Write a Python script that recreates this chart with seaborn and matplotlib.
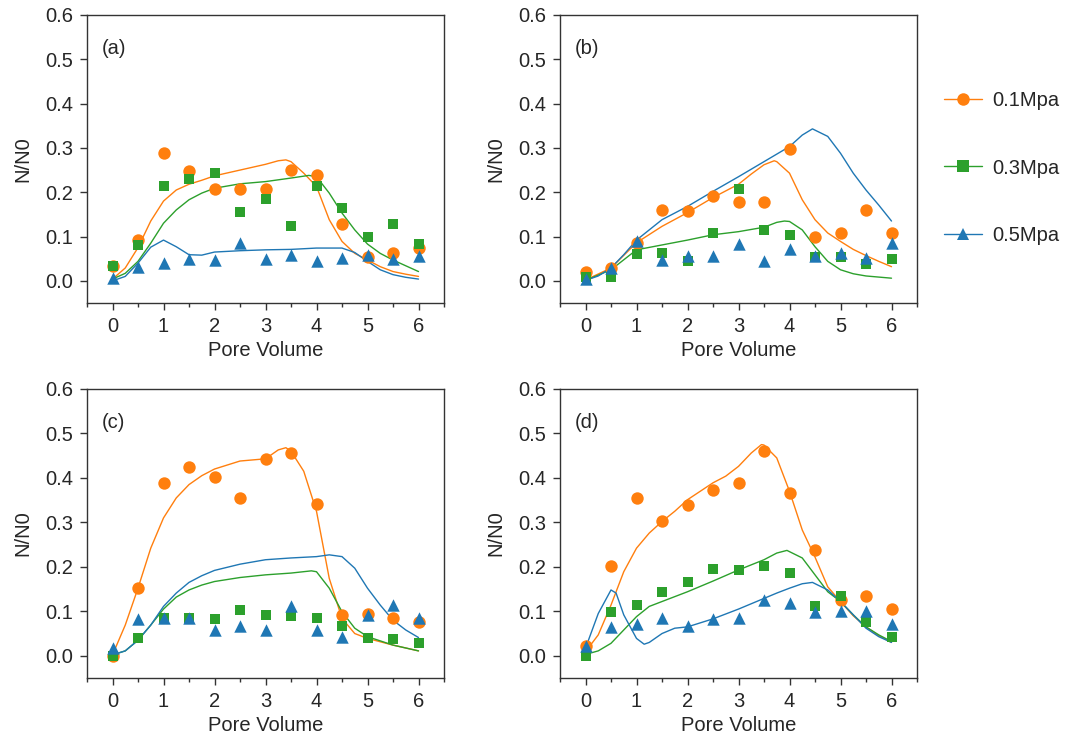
import matplotlib
matplotlib.use("Agg")
import matplotlib.pyplot as plt
import seaborn as sns
import pandas as pd
from matplotlib.lines import Line2D
from matplotlib.ticker import MultipleLocator

# ---------------- data ----------------
SERIES = ["0.1Mpa", "0.3Mpa", "0.5Mpa"]
PANELS = ["(a)", "(b)", "(c)", "(d)"]
PV = [0, 0.5, 1, 1.5, 2, 2.5, 3, 3.5, 4, 4.5, 5, 5.5, 6]
X_TICKS = [0, 1, 2, 3, 4, 5, 6]
Y_TICKS = [0.0, 0.1, 0.2, 0.3, 0.4, 0.5, 0.6]

# measured points
A_P01 = [0.034, 0.092, 0.289, 0.248, 0.208, 0.208, 0.208, 0.250, 0.239, 0.129, 0.053, 0.062, 0.074]
A_P03 = [0.034, 0.080, 0.215, 0.230, 0.243, 0.155, 0.184, 0.124, 0.214, 0.165, 0.100, 0.129, 0.083]
A_P05 = [0.007, 0.031, 0.040, 0.050, 0.046, 0.086, 0.050, 0.058, 0.044, 0.051, 0.059, 0.050, 0.055]

B_P01 = [0.019, 0.029, 0.086, 0.160, 0.158, 0.192, 0.179, 0.179, 0.297, 0.098, 0.107, 0.159, 0.107]
B_P03 = [0.008, 0.008, 0.061, 0.062, 0.044, 0.109, 0.208, 0.115, 0.104, 0.053, 0.053, 0.038, 0.049]
B_P05 = [0.004, 0.029, 0.089, 0.047, 0.055, 0.056, 0.083, 0.044, 0.071, 0.055, 0.062, 0.051, 0.086]

C_P01 = [0.000, 0.153, 0.389, 0.425, 0.403, 0.354, 0.442, 0.455, 0.341, 0.092, 0.094, 0.086, 0.077]
C_P03 = [0.000, 0.041, 0.086, 0.084, 0.082, 0.102, 0.092, 0.089, 0.086, 0.067, 0.041, 0.038, 0.028]
C_P05 = [0.017, 0.082, 0.086, 0.086, 0.059, 0.067, 0.059, 0.111, 0.058, 0.043, 0.092, 0.114, 0.086]

D_P01 = [0.023, 0.203, 0.355, 0.302, 0.338, 0.372, 0.388, 0.460, 0.365, 0.237, 0.126, 0.135, 0.105]
D_P03 = [0.000, 0.099, 0.114, 0.143, 0.165, 0.196, 0.192, 0.203, 0.186, 0.112, 0.135, 0.075, 0.043]
D_P05 = [0.023, 0.065, 0.071, 0.084, 0.067, 0.082, 0.084, 0.126, 0.119, 0.098, 0.101, 0.101, 0.071]

# fitted curves
A_C01_X = [0, 0.25, 0.5, 0.75, 1.0, 1.25, 1.5, 1.75, 2.0, 2.5, 3.0, 3.25, 3.4, 3.5, 3.75, 4.0, 4.25, 4.5, 4.75, 5.0, 5.25, 5.5, 5.75, 6.0]
A_C01_Y = [0.004, 0.029, 0.075, 0.135, 0.180, 0.205, 0.218, 0.227, 0.237, 0.250, 0.263, 0.271, 0.273, 0.269, 0.243, 0.213, 0.138, 0.089, 0.062, 0.047, 0.032, 0.021, 0.015, 0.010]
A_C03_X = [0, 0.25, 0.5, 0.75, 1.0, 1.25, 1.5, 1.75, 2.0, 2.5, 3.0, 3.5, 3.85, 4.0, 4.25, 4.5, 4.75, 5.0, 5.25, 5.5, 5.75, 6.0]
A_C03_Y = [0.004, 0.017, 0.044, 0.085, 0.130, 0.160, 0.183, 0.198, 0.209, 0.219, 0.224, 0.232, 0.238, 0.235, 0.198, 0.153, 0.115, 0.083, 0.062, 0.047, 0.034, 0.021]
A_C05_X = [0, 0.25, 0.5, 0.75, 1.0, 1.25, 1.5, 1.75, 2.0, 2.5, 3.0, 3.5, 4.0, 4.5, 4.75, 5.0, 5.25, 5.5, 5.75, 6.0]
A_C05_Y = [0.000, 0.010, 0.040, 0.076, 0.092, 0.077, 0.059, 0.058, 0.065, 0.068, 0.070, 0.071, 0.074, 0.074, 0.064, 0.044, 0.025, 0.014, 0.008, 0.004]

B_C01_X = [0, 0.5, 1.0, 1.5, 2.0, 2.5, 3.0, 3.25, 3.5, 3.7, 3.75, 4.0, 4.25, 4.5, 4.75, 5.0, 5.25, 5.5, 5.75, 6.0]
B_C01_Y = [0.002, 0.029, 0.086, 0.123, 0.154, 0.188, 0.218, 0.241, 0.262, 0.271, 0.269, 0.243, 0.183, 0.138, 0.108, 0.089, 0.071, 0.057, 0.044, 0.032]
B_C03_X = [0, 0.5, 1.0, 1.5, 2.0, 2.5, 3.0, 3.5, 3.75, 3.9, 4.0, 4.25, 4.5, 4.75, 5.0, 5.25, 5.5, 6.0]
B_C03_Y = [0.001, 0.025, 0.070, 0.081, 0.092, 0.104, 0.111, 0.121, 0.132, 0.135, 0.134, 0.115, 0.077, 0.044, 0.025, 0.016, 0.011, 0.006]
B_C05_X = [0, 0.25, 0.5, 0.75, 1.0, 1.5, 2.0, 2.5, 3.0, 3.5, 4.0, 4.25, 4.45, 4.75, 5.0, 5.25, 5.5, 5.75, 6.0]
B_C05_Y = [0.001, 0.011, 0.029, 0.059, 0.092, 0.138, 0.168, 0.202, 0.235, 0.269, 0.303, 0.329, 0.343, 0.326, 0.288, 0.243, 0.205, 0.171, 0.135]

C_C01_X = [0, 0.25, 0.5, 0.75, 1.0, 1.25, 1.5, 1.75, 2.0, 2.5, 3.0, 3.25, 3.4, 3.5, 3.75, 4.0, 4.25, 4.5, 4.75, 5.0, 5.5, 6.0]
C_C01_Y = [0.002, 0.069, 0.152, 0.242, 0.310, 0.355, 0.385, 0.405, 0.420, 0.438, 0.443, 0.463, 0.468, 0.460, 0.415, 0.325, 0.174, 0.084, 0.050, 0.039, 0.024, 0.011]
C_C03_X = [0, 0.25, 0.5, 0.75, 1.0, 1.25, 1.5, 1.75, 2.0, 2.5, 3.0, 3.5, 3.9, 4.0, 4.25, 4.5, 4.75, 5.0, 5.5, 6.0]
C_C03_Y = [0.002, 0.011, 0.035, 0.069, 0.105, 0.132, 0.148, 0.159, 0.167, 0.176, 0.182, 0.186, 0.191, 0.189, 0.152, 0.099, 0.062, 0.043, 0.024, 0.011]
C_C05_X = [0, 0.25, 0.5, 0.75, 1.0, 1.25, 1.5, 1.75, 2.0, 2.5, 3.0, 3.5, 4.0, 4.25, 4.5, 4.75, 5.0, 5.25, 5.5, 5.75, 6.0]
C_C05_Y = [0.002, 0.011, 0.035, 0.069, 0.111, 0.141, 0.165, 0.180, 0.192, 0.206, 0.216, 0.220, 0.223, 0.227, 0.223, 0.197, 0.152, 0.114, 0.080, 0.058, 0.041]

D_C01_X = [0, 0.25, 0.5, 0.75, 1.0, 1.25, 1.5, 1.75, 2.0, 2.25, 2.5, 2.75, 3.0, 3.25, 3.45, 3.5, 3.75, 4.0, 4.25, 4.5, 4.75, 5.0, 5.25, 5.5, 5.75, 6.0]
D_C01_Y = [0.009, 0.047, 0.114, 0.189, 0.242, 0.276, 0.302, 0.325, 0.351, 0.370, 0.389, 0.404, 0.426, 0.456, 0.475, 0.474, 0.445, 0.370, 0.283, 0.222, 0.155, 0.122, 0.090, 0.065, 0.045, 0.030]
D_C03_X = [0, 0.25, 0.5, 0.75, 1.0, 1.25, 1.5, 2.0, 2.5, 3.0, 3.5, 3.75, 3.95, 4.25, 4.5, 4.75, 5.0, 5.25, 5.5, 5.75, 6.0]
D_C03_Y = [0.003, 0.011, 0.028, 0.058, 0.088, 0.111, 0.122, 0.144, 0.168, 0.193, 0.216, 0.231, 0.237, 0.220, 0.182, 0.144, 0.122, 0.092, 0.065, 0.047, 0.032]
D_C05_X = [0, 0.25, 0.5, 0.6, 0.75, 1.0, 1.15, 1.25, 1.5, 1.75, 2.0, 2.5, 3.0, 3.5, 3.75, 4.0, 4.25, 4.45, 4.75, 5.0, 5.25, 5.5, 5.75, 6.0]
D_C05_Y = [0.017, 0.095, 0.148, 0.141, 0.092, 0.039, 0.026, 0.030, 0.050, 0.062, 0.065, 0.083, 0.105, 0.129, 0.141, 0.152, 0.162, 0.165, 0.148, 0.122, 0.092, 0.062, 0.043, 0.030]

# ---------------- style ----------------
sns.set_style("ticks")
plt.rcParams["font.family"] = ["Liberation Sans", "DejaVu Sans"]

COLORS = {"0.1Mpa": "#ff7f0e", "0.3Mpa": "#2ca02c", "0.5Mpa": "#1f77b4"}
MARKERS = {"0.1Mpa": "o", "0.3Mpa": "s", "0.5Mpa": "^"}
SIZES = {"0.1Mpa": 80, "0.3Mpa": 62, "0.5Mpa": 80}
SPINE = "#333333"
FS = 14.5

points = {
    "(a)": [A_P01, A_P03, A_P05],
    "(b)": [B_P01, B_P03, B_P05],
    "(c)": [C_P01, C_P03, C_P05],
    "(d)": [D_P01, D_P03, D_P05],
}
curves = {
    "(a)": [(A_C01_X, A_C01_Y), (A_C03_X, A_C03_Y), (A_C05_X, A_C05_Y)],
    "(b)": [(B_C01_X, B_C01_Y), (B_C03_X, B_C03_Y), (B_C05_X, B_C05_Y)],
    "(c)": [(C_C01_X, C_C01_Y), (C_C03_X, C_C03_Y), (C_C05_X, C_C05_Y)],
    "(d)": [(D_C01_X, D_C01_Y), (D_C03_X, D_C03_Y), (D_C05_X, D_C05_Y)],
}

W, H = 1077, 740
boxes = {"(a)": (87, 15, 444, 303), "(b)": (560, 15, 917, 303),
         "(c)": (87, 389, 444, 678), "(d)": (560, 389, 917, 678)}

fig = plt.figure(figsize=(W / 100, H / 100), dpi=100)

for panel in PANELS:
    l, t, r, b = boxes[panel]
    ax = fig.add_axes([l / W, 1 - b / H, (r - l) / W, (b - t) / H])
    # curves
    for s, (cx, cy) in zip(SERIES, curves[panel]):
        dfc = pd.DataFrame({"x": cx, "y": cy})
        sns.lineplot(data=dfc, x="x", y="y", ax=ax, color=COLORS[s], lw=1.0,
                     estimator=None, sort=False, legend=False, zorder=2)
    # points
    for s, py in zip(SERIES, points[panel]):
        dfp = pd.DataFrame({"x": PV, "y": py})
        sns.scatterplot(data=dfp, x="x", y="y", ax=ax, color=COLORS[s],
                        marker=MARKERS[s], s=SIZES[s], linewidth=0,
                        legend=False, zorder=3)
    ax.set_xlim(-0.5, 6.5)
    ax.set_ylim(-0.05, 0.6)
    ax.set_xticks(X_TICKS)
    ax.set_yticks(Y_TICKS)
    ax.set_yticklabels([f"{v:.1f}" for v in Y_TICKS])
    ax.xaxis.set_minor_locator(MultipleLocator(0.5))
    ax.tick_params(which="major", direction="out", length=5, width=1,
                   color=SPINE, labelsize=FS, pad=5)
    ax.tick_params(which="minor", axis="x", direction="out", length=3,
                   width=1, color=SPINE)
    for sp in ax.spines.values():
        sp.set_visible(True)
        sp.set_color(SPINE)
        sp.set_linewidth(1.0)
    ax.set_xlabel("Pore Volume", fontsize=FS, labelpad=4)
    ax.set_ylabel("N/N0", fontsize=FS, labelpad=9)
    ax.text(0.042, 0.885, panel, transform=ax.transAxes, fontsize=FS,
            ha="left", va="center")

handles = [Line2D([0], [0], color=COLORS[s], lw=1.0, marker=MARKERS[s],
                  markersize=9, markeredgewidth=0) for s in SERIES]
fig.legend(handles, SERIES, loc="center left",
           bbox_to_anchor=(944 / W, 1 - 168 / H), frameon=False,
           fontsize=FS, labelspacing=2.4, handlelength=1.9,
           handletextpad=0.5, borderpad=0, borderaxespad=0)

fig.savefig("out.png", dpi=100)
